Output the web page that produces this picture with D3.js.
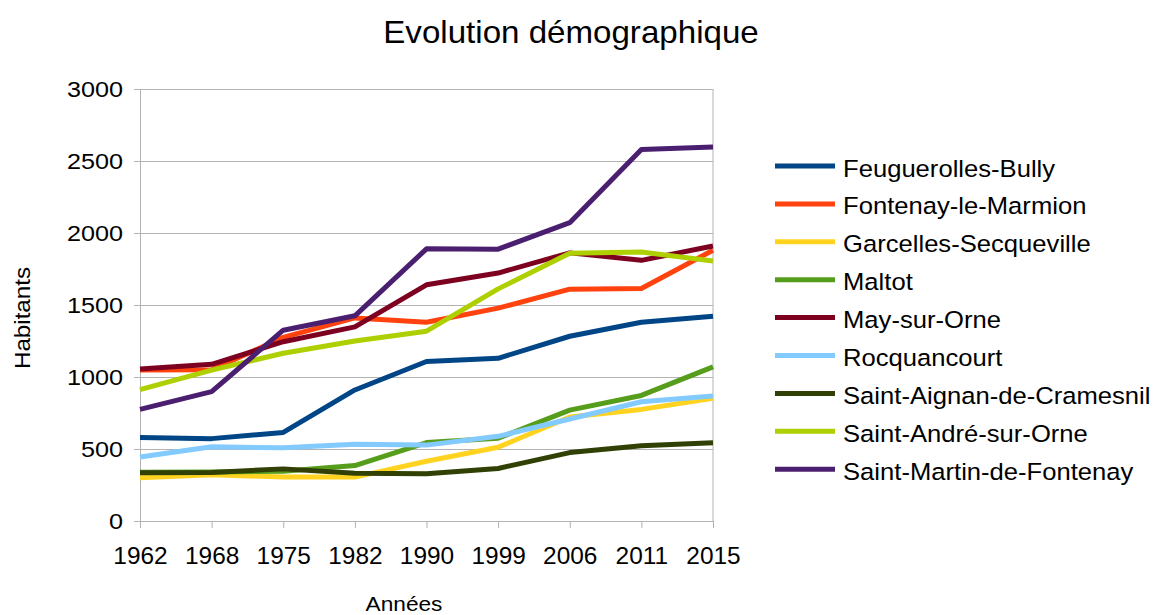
<!DOCTYPE html>
<html>
<head>
<meta charset="utf-8">
<script src="https://cdn.jsdelivr.net/npm/d3@7"></script>
<style>
  body { margin: 0; background: #fff; }
  text { font-family: "Liberation Sans", Arial, sans-serif; }
</style>
</head>
<body>
<svg id="chart" width="1153" height="615"></svg>
<script>
const years = ['1962', '1968', '1975', '1982', '1990', '1999', '2006', '2011', '2015'];
const communes = [
  'Feuguerolles-Bully', 'Fontenay-le-Marmion', 'Garcelles-Secqueville', 'Maltot',
  'May-sur-Orne', 'Rocquancourt', 'Saint-Aignan-de-Cramesnil', 'Saint-André-sur-Orne',
  'Saint-Martin-de-Fontenay'
];
const feuguerolles = [580, 572, 615, 910, 1108, 1130, 1283, 1380, 1422];
const fontenay = [1048, 1050, 1275, 1410, 1380, 1478, 1610, 1615, 1880];
const garcelles = [300, 322, 305, 305, 415, 512, 722, 775, 852];
const maltot = [338, 340, 345, 385, 545, 575, 770, 872, 1070];
const may = [1055, 1088, 1245, 1348, 1640, 1722, 1862, 1810, 1910];
const rocquancourt = [445, 515, 508, 533, 527, 588, 708, 828, 868];
const saintAignan = [335, 337, 362, 332, 328, 365, 475, 522, 543];
const saintAndre = [912, 1048, 1165, 1250, 1318, 1612, 1860, 1868, 1805];
const saintMartin = [775, 898, 1325, 1425, 1890, 1888, 2072, 2580, 2598];
const yTicks = [0, 500, 1000, 1500, 2000, 2500, 3000];
const colors = ['#004586', '#ff420e', '#ffd320', '#579d1c', '#7e0021', '#83caff', '#314004', '#aecf00', '#4b1f6f'];

const seriesValues = [feuguerolles, fontenay, garcelles, maltot, may, rocquancourt, saintAignan, saintAndre, saintMartin];
const series = communes.map((name, i) => ({ name, color: colors[i], values: seriesValues[i] }));

const svg = d3.select('#chart');
const margin = { top: 89, left: 140 };
const width = 573, height = 432;

const x = d3.scalePoint().domain(years).range([0, width]);
const y = d3.scaleLinear().domain([0, 3000]).range([height, 0]);

// text in the reference is a little wider than Liberation Sans, stretch it
svg.append('text')
  .attr('transform', 'translate(571,43) scale(1.035,1)')
  .attr('text-anchor', 'middle')
  .attr('font-size', 32)
  .text('Evolution démographique');

const g = svg.append('g').attr('transform', `translate(${margin.left},${margin.top})`);

// gridlines
g.append('g')
  .call(d3.axisLeft(y).tickValues(yTicks).tickSize(-width).tickFormat(''))
  .call(s => s.select('.domain').remove())
  .selectAll('line').attr('stroke', '#b3b3b3');

g.append('line')
  .attr('x1', width).attr('x2', width).attr('y1', 0).attr('y2', height)
  .attr('stroke', '#b3b3b3');

const yAxis = g.append('g')
  .call(d3.axisLeft(y).tickValues(yTicks).tickSize(6).tickFormat(d3.format('d')));
yAxis.select('.domain').attr('stroke', '#b3b3b3');
yAxis.selectAll('line').attr('stroke', '#b3b3b3');
yAxis.selectAll('text')
  .attr('x', 0)
  .attr('transform', 'translate(-17,0) scale(1.12,1)')
  .attr('font-size', 22.5).attr('fill', '#000')
  .attr('font-family', '"Liberation Sans", Arial, sans-serif');

const xAxis = g.append('g')
  .attr('transform', `translate(0,${height})`)
  .call(d3.axisBottom(x).tickSize(7));
xAxis.select('.domain').attr('stroke', '#b3b3b3');
xAxis.selectAll('line').attr('stroke', '#b3b3b3');
xAxis.selectAll('text')
  .attr('y', 0).attr('dy', 0)
  .attr('transform', 'translate(0,43) scale(1.04,1)')
  .attr('font-size', 23.5).attr('fill', '#000')
  .attr('font-family', '"Liberation Sans", Arial, sans-serif');

const line = d3.line()
  .x((d, i) => x(years[i]))
  .y(d => y(d));

g.selectAll('.series')
  .data(series)
  .enter().append('path')
  .attr('class', 'series')
  .attr('d', d => line(d.values))
  .attr('fill', 'none')
  .attr('stroke', d => d.color)
  .attr('stroke-width', 5)
  .attr('stroke-linejoin', 'round');

// axis titles
svg.append('text')
  .attr('transform', 'translate(30,318) rotate(-90) scale(1.1,1)')
  .attr('text-anchor', 'middle')
  .attr('font-size', 22)
  .text('Habitants');

svg.append('text')
  .attr('transform', 'translate(404,611) scale(1.08,1)')
  .attr('text-anchor', 'middle')
  .attr('font-size', 21)
  .text('Années');

// legend
const legend = svg.append('g').attr('transform', 'translate(775,166)');
const rows = legend.selectAll('g')
  .data(series)
  .enter().append('g')
  .attr('transform', (d, i) => `translate(0,${i * 37.9})`);
rows.append('line')
  .attr('x1', 0).attr('x2', 60)
  .attr('stroke', d => d.color)
  .attr('stroke-width', 5);
rows.append('text')
  .attr('transform', 'translate(68,10.5) scale(1.09,1)')
  .attr('font-size', 23.5)
  .text(d => d.name);
</script>
</body>
</html>
